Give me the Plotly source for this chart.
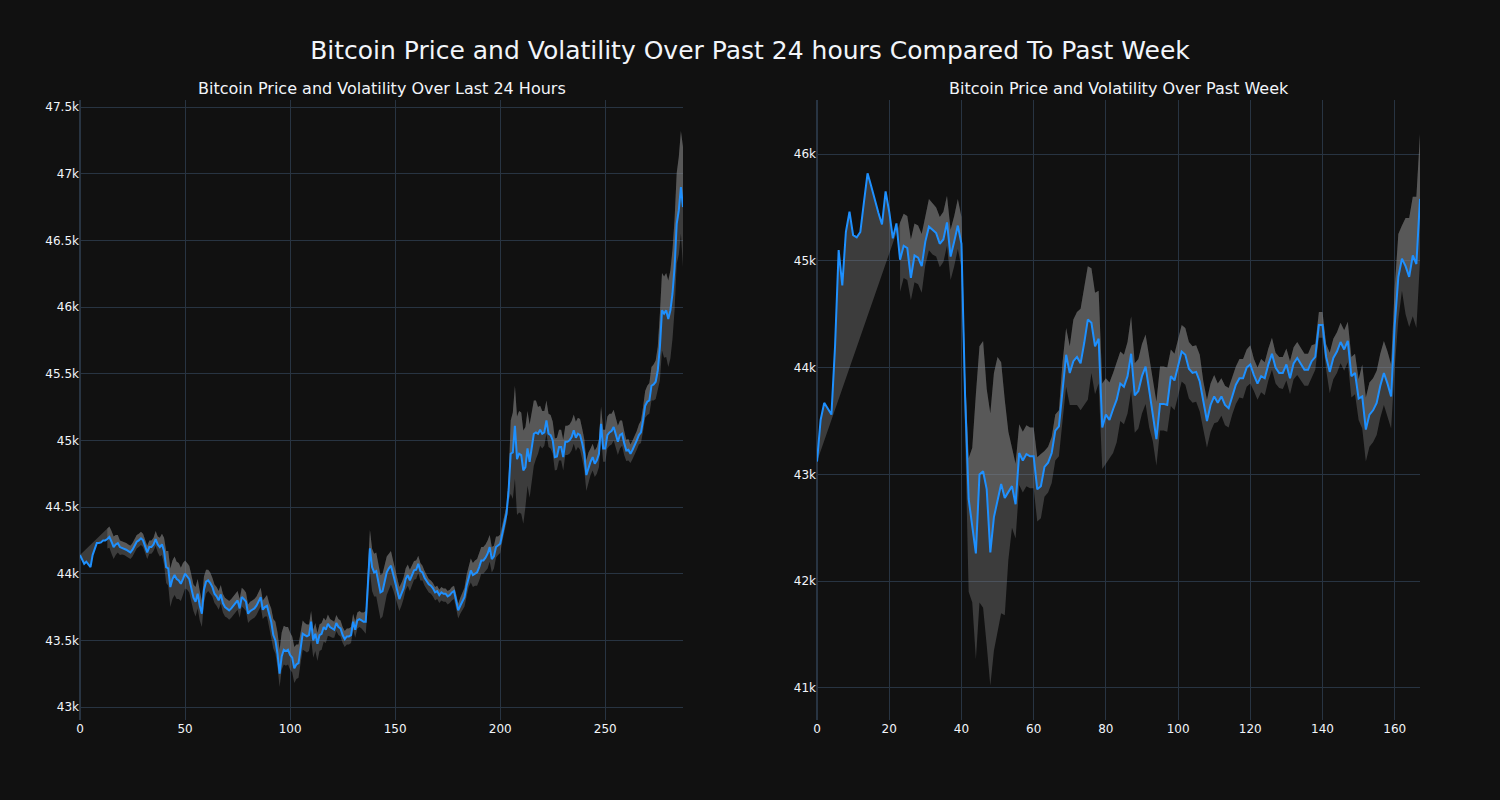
import plotly.graph_objects as go
from plotly.subplots import make_subplots

# ---------------- Last 24 hours (5-minute steps) ----------------
day_price = [
    44140, 44100, 44075, 44090, 44070, 44050, 44140, 44190, 44230, 44230,
    44235, 44250, 44250, 44260, 44275, 44240, 44200, 44220, 44230, 44200,
    44195, 44190, 44180, 44170, 44160, 44180, 44210, 44240, 44250, 44265,
    44250, 44200, 44160, 44200, 44200, 44220, 44260, 44220, 44200, 44220,
    44170, 44050, 44040, 43900, 43960, 43990, 43960, 43950, 43925, 43960,
    44000, 43980, 43960, 43890, 43820, 43790, 43850, 43760, 43700, 43880,
    43940, 43950, 43930, 43900, 43850, 43830, 43800, 43845, 43780, 43750,
    43740, 43725, 43740, 43760, 43780, 43800, 43740, 43825, 43810, 43790,
    43700, 43720, 43730, 43740, 43760, 43790, 43825, 43730, 43750, 43760,
    43690, 43640, 43540, 43500, 43400, 43250, 43380, 43430, 43420, 43430,
    43390, 43370, 43290, 43320, 43330, 43450, 43550, 43540, 43530, 43540,
    43640, 43500, 43550, 43475, 43540, 43550, 43600, 43580, 43625, 43600,
    43590, 43580, 43630, 43600, 43590, 43540, 43510, 43530, 43530, 43540,
    43640, 43580, 43650, 43660, 43650, 43640, 43640, 43900, 44190, 44050,
    44010, 44020, 43950, 43860, 43870, 43950, 44010, 44040, 44060, 44000,
    43940, 43870, 43810, 43850, 43890, 43960, 43990, 43950, 43990, 44025,
    44030, 44075, 44020, 44010, 43970, 43940, 43920, 43910, 43890, 43860,
    43870, 43840, 43860, 43850, 43850, 43830, 43840, 43860, 43870, 43800,
    43725, 43760, 43800, 43825, 43910, 43980, 44025, 43990, 44000, 44010,
    44050, 44100, 44100, 44120, 44150, 44200, 44110, 44130, 44200, 44210,
    44225, 44300, 44375, 44450, 44625, 44900, 44910, 45110, 44860, 44900,
    44890, 44775, 44800, 44940, 44840, 44950, 45050, 45060, 45050, 45080,
    45050, 45060, 45150, 45050, 45040, 45000, 44875, 44880, 44950, 44950,
    44875, 44990, 44990, 45000, 45025, 45075, 45020, 45050, 45040, 44980,
    44900, 44740, 44800, 44840, 44875, 44825, 44850, 44900, 45125, 44940,
    44940, 45040, 45060, 45070, 45100, 45050, 44990, 45040, 45050, 44980,
    44925, 44930, 44900, 44930, 44960, 45000, 45040, 45060, 45150, 45260,
    45290, 45300, 45410, 45420, 45440, 45525, 45700, 45975, 45950, 45975,
    45910, 45975, 46100, 46300, 46625, 46725, 46900, 46750,
]

# volatility band: distance of the upper / lower edge from the price
day_vol_up = [
    None, None, None, None, None, None, None, None, None, None,
    None, None, None, 80, 80, 80, 80, 70, 60, 50,
    50, 50, 50, 50, 50, 50, 50, 50, 50, 50,
    50, 50, 50, 50, 50, 50, 60, 60, 70, 80,
    100, 120, 130, 140, 140, 140, 130, 130, 120, 120,
    100, 100, 100, 100, 100, 110, 110, 110, 100, 100,
    90, 80, 80, 70, 70, 70, 70, 70, 70, 70,
    70, 70, 70, 70, 70, 70, 70, 70, 70, 70,
    70, 70, 70, 70, 70, 70, 70, 70, 70, 80,
    90, 100, 120, 140, 160, 180, 180, 180, 180, 170,
    170, 160, 160, 150, 140, 120, 100, 90, 90, 80,
    80, 80, 80, 80, 80, 80, 70, 70, 70, 60,
    60, 60, 60, 60, 60, 60, 60, 60, 60, 60,
    60, 60, 60, 60, 60, 70, 80, 120, 140, 140,
    140, 140, 130, 130, 130, 120, 120, 110, 110, 100,
    100, 90, 90, 80, 80, 80, 80, 80, 80, 70,
    70, 60, 60, 50, 50, 50, 40, 40, 40, 40,
    40, 40, 40, 40, 40, 40, 40, 40, 40, 50,
    50, 60, 60, 70, 80, 80, 90, 90, 100, 100,
    100, 100, 100, 100, 100, 90, 90, 80, 80, 70,
    70, 60, 60, 60, 80, 250, 300, 300, 320, 320,
    320, 300, 300, 280, 280, 260, 250, 240, 200, 180,
    170, 160, 150, 150, 150, 140, 140, 140, 130, 130,
    130, 120, 120, 120, 120, 120, 120, 120, 120, 110,
    110, 110, 110, 100, 100, 100, 100, 110, 130, 140,
    140, 140, 140, 130, 130, 120, 120, 110, 100, 90,
    80, 80, 70, 70, 70, 70, 80, 90, 100, 110,
    120, 130, 140, 150, 160, 180, 250, 280, 280, 280,
    290, 300, 330, 360, 380, 400, 420, 450,
]
day_vol_down = [
    None, None, None, None, None, None, None, None, None, None,
    None, None, None, 70, 80, 90, 90, 80, 70, 60,
    50, 50, 50, 50, 50, 50, 50, 50, 50, 50,
    50, 50, 50, 50, 50, 50, 50, 60, 70, 80,
    100, 120, 130, 150, 150, 150, 150, 140, 130, 120,
    110, 100, 100, 100, 100, 110, 110, 110, 100, 100,
    90, 80, 80, 70, 70, 70, 70, 70, 70, 70,
    70, 70, 70, 70, 70, 70, 70, 70, 70, 70,
    70, 70, 70, 70, 70, 70, 70, 70, 70, 80,
    90, 100, 100, 100, 100, 100, 100, 110, 110, 110,
    110, 110, 110, 110, 110, 120, 120, 120, 120, 120,
    130, 130, 130, 130, 120, 120, 110, 100, 90, 70,
    70, 60, 60, 60, 60, 60, 60, 60, 60, 60,
    60, 60, 60, 60, 60, 70, 90, 140, 170, 180,
    180, 190, 200, 200, 190, 180, 170, 160, 140, 120,
    110, 100, 90, 90, 80, 80, 80, 80, 80, 70,
    70, 70, 70, 60, 60, 60, 60, 60, 60, 60,
    60, 60, 60, 60, 60, 60, 60, 60, 60, 60,
    60, 60, 70, 70, 80, 80, 90, 90, 90, 100,
    100, 100, 100, 100, 110, 110, 100, 90, 80, 70,
    70, 60, 60, 60, 80, 300, 350, 400, 420, 440,
    440, 400, 300, 280, 270, 260, 240, 200, 150, 120,
    110, 100, 100, 100, 100, 100, 100, 100, 100, 100,
    100, 100, 100, 100, 100, 100, 100, 100, 110, 120,
    120, 120, 110, 100, 100, 100, 100, 100, 100, 100,
    100, 100, 100, 100, 100, 100, 100, 100, 90, 90,
    80, 80, 70, 70, 70, 70, 70, 80, 80, 90,
    100, 100, 110, 120, 130, 150, 250, 300, 330, 350,
    360, 360, 340, 320, 300, 330, 350, 450,
]

# ---------------- Past week (hourly steps) ----------------
week_price = [
    43120, 43510, 43670, 43620, 43560, 44200, 45100, 44770, 45270, 45460,
    45240, 45220, 45270, 45550, 45820, 45700, 45570, 45450, 45340, 45650,
    45460, 45210, 45350, 45010, 45140, 45120, 44840, 45050, 45030, 44950,
    45180, 45320, 45290, 45260, 45160, 45200, 45360, 45040, 45180, 45330,
    45160, 43750, 42770, 42500, 42260, 43000, 43030, 42860, 42270, 42600,
    42770, 42910, 42780, 42830, 42890, 42720, 43200, 43130, 43190, 43170,
    43170, 42860, 42890, 43070, 43110, 43200, 43410, 43450, 43800, 44120,
    43950, 44060, 44100, 44040, 44230, 44450, 44420, 44200, 44270, 43440,
    43560, 43510, 43610, 43700, 43850, 43820, 43920, 44130, 43740, 43780,
    43920, 44010, 43790, 43560, 43330, 43660, 43660, 43650, 43920, 43880,
    44010, 44150, 44120, 43990, 43950, 43960, 43870, 43670, 43500, 43650,
    43730, 43670, 43730, 43650, 43620, 43730, 43840, 43900, 43900, 44000,
    44030, 43930, 43850, 43920, 43900, 44030, 44130, 44000, 43950, 43950,
    44030, 43900, 44040, 44090, 44030, 43980, 43980, 44060, 44100, 44400,
    44400, 44100, 43960, 44090, 44150, 44240, 44170, 44250, 43920, 43950,
    43710, 43730, 43420, 43560, 43600, 43670, 43830, 43950, 43850, 43730,
    44400, 44850, 45020, 44950, 44850, 45050, 44970, 45580,
]
week_vol_up = [
    None, None, None, None, None, None, None, None, None, None,
    None, None, None, None, None, None, None, None, None, None,
    None, None, None, 350, 300, 300, 360, 300, 300, 300,
    250, 260, 250, 240, 250, 260, 250, 250, 240, 250,
    250, 200, 380, 750, 1490, 1200, 1220, 940, 1300, 1350,
    1330, 1140, 920, 570, 360, 380, 270, 270, 270, 270,
    270, 300, 300, 150, 150, 150, 150, 150, 250, 250,
    250, 390, 420, 510, 520, 500, 510, 500, 450, 410,
    340, 350, 340, 350, 300, 300, 320, 350, 300, 300,
    300, 300, 300, 350, 350, 350, 350, 350, 250, 250,
    250, 250, 250, 250, 250, 250, 250, 200, 200, 200,
    200, 180, 170, 180, 190, 180, 170, 180, 180, 170,
    180, 150, 150, 160, 150, 150, 150, 140, 150, 150,
    150, 160, 150, 150, 150, 150, 150, 150, 120, 120,
    120, 120, 180, 180, 180, 180, 180, 180, 180, 180,
    180, 300, 300, 300, 300, 300, 300, 300, 300, 300,
    350, 400, 310, 450, 550, 550, 630, 610,
]
week_vol_down = [
    None, None, None, None, None, None, None, None, None, None,
    None, None, None, None, None, None, None, None, None, None,
    None, None, None, 300, 300, 300, 210, 250, 250, 250,
    220, 220, 230, 220, 220, 210, 220, 220, 230, 220,
    220, 350, 870, 700, 990, 1200, 1280, 1460, 1250, 1250,
    1250, 1210, 1100, 630, 390, 320, 300, 300, 300, 300,
    300, 300, 300, 280, 280, 280, 280, 280, 300, 300,
    300, 410, 450, 440, 580, 750, 470, 450, 420, 390,
    460, 360, 410, 400, 350, 350, 350, 350, 350, 350,
    350, 350, 350, 250, 250, 250, 250, 250, 280, 280,
    280, 280, 280, 280, 280, 280, 280, 250, 250, 250,
    250, 180, 180, 190, 180, 170, 180, 180, 190, 180,
    180, 150, 150, 150, 160, 150, 150, 150, 140, 150,
    150, 150, 150, 160, 150, 150, 150, 150, 120, 120,
    120, 120, 200, 200, 200, 200, 200, 200, 200, 200,
    200, 300, 300, 300, 300, 300, 300, 300, 300, 300,
    400, 400, 300, 450, 470, 570, 600, 580,
]

main_title = "Bitcoin Price and Volatility Over Past 24 hours Compared To Past Week"
left_title = "Bitcoin Price and Volatility Over Last 24 Hours"
right_title = "Bitcoin Price and Volatility Over Past Week"

FILL = "rgba(140,140,140,0.35)"
LINE = "#1E90FF"
FONT = "DejaVu Sans"


def band(price, up, down):
    upper = [None if w is None else p + w for p, w in zip(price, up)]
    lower = [None if w is None else p - w for p, w in zip(price, down)]
    return upper, lower


fig = make_subplots(rows=1, cols=2, subplot_titles=(left_title, right_title),
                    horizontal_spacing=0.1)

panels = [
    (1, day_price, day_vol_up, day_vol_down),
    (2, week_price, week_vol_up, week_vol_down),
]
for col, price, up, down in panels:
    x = list(range(len(price)))
    upper, lower = band(price, up, down)
    fig.add_trace(go.Scatter(x=x, y=lower, mode="lines", line=dict(width=0, color=FILL),
                             showlegend=False, hoverinfo="skip"), row=1, col=col)
    fig.add_trace(go.Scatter(x=x, y=upper, mode="lines", line=dict(width=0, color=FILL),
                             fill="tonexty", fillcolor=FILL,
                             showlegend=False, hoverinfo="skip"), row=1, col=col)
    fig.add_trace(go.Scatter(x=x, y=price, mode="lines", line=dict(width=2, color=LINE),
                             fill="tonexty", fillcolor=FILL,
                             showlegend=False), row=1, col=col)

fig.update_layout(
    template="plotly_dark",
    width=1500, height=800,
    font=dict(family=FONT),
    title=dict(text=main_title, x=0.5, xanchor="center", y=0.9375, yanchor="middle",
               font=dict(size=25, family=FONT)),
    margin=dict(l=80, r=80, t=100, b=80),
    showlegend=False,
)
fig.update_annotations(font=dict(size=16, family=FONT))
fig.update_xaxes(range=[0, len(day_price) - 1], dtick=50, row=1, col=1)
fig.update_xaxes(range=[0, len(week_price) - 1], dtick=20, row=1, col=2)
fig.update_yaxes(range=[42903, 47553], dtick=500, row=1, col=1)
fig.update_yaxes(range=[40700, 46506], dtick=1000, row=1, col=2)

fig.write_html("out.html", config={"displayModeBar": False},
               post_script="document.body.style.margin='0';")
